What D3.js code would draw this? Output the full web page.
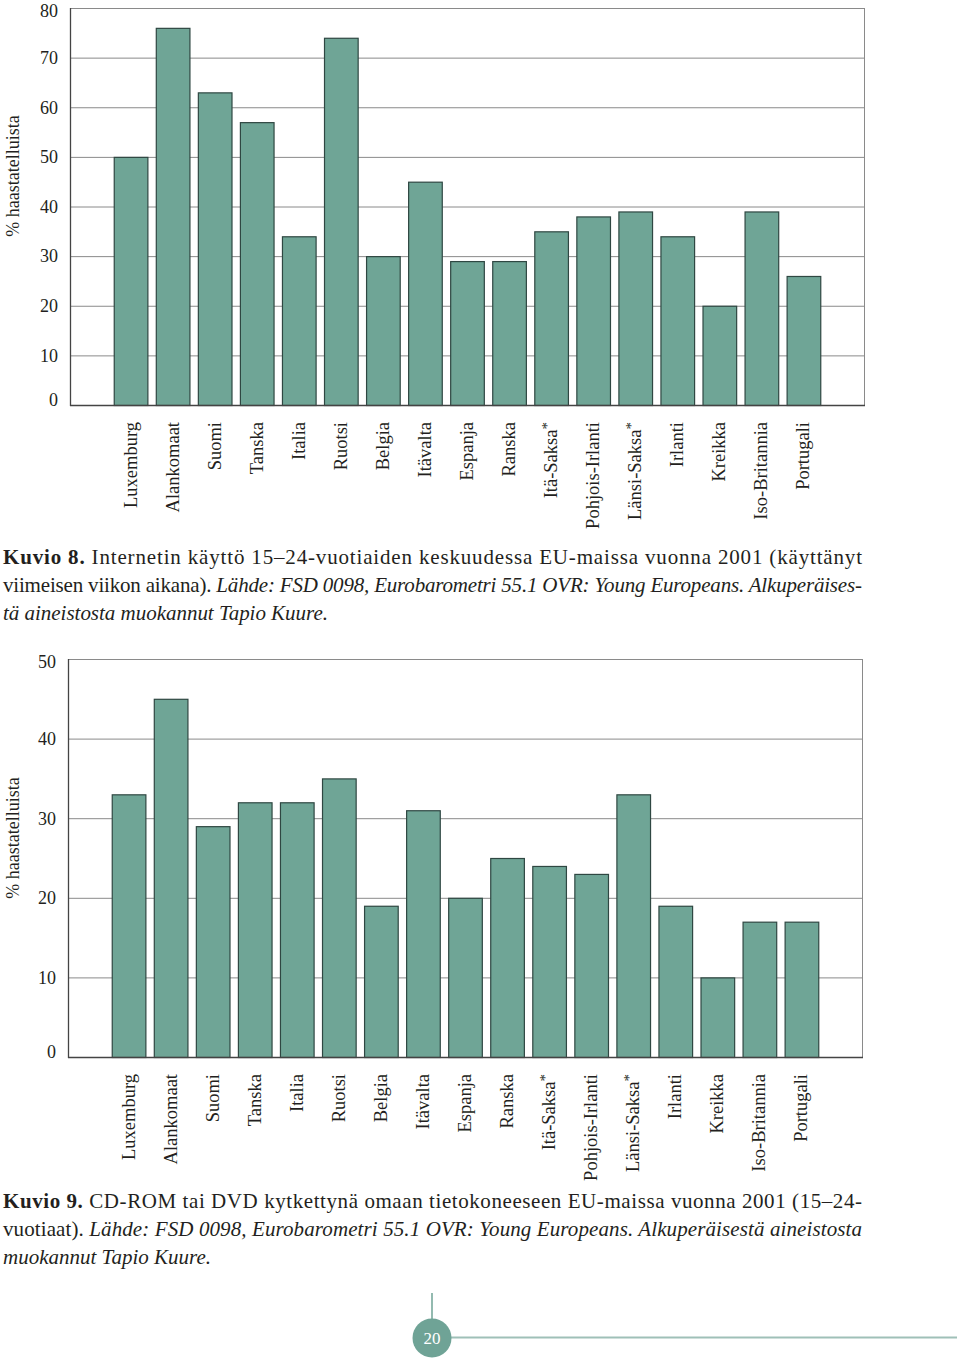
<!DOCTYPE html>
<html>
<head>
<meta charset="utf-8">
<script src="https://cdn.jsdelivr.net/npm/d3@7"></script>
<style>
  html, body { margin: 0; padding: 0; background: #ffffff; }
  svg { display: block; }
  text { font-family: "Liberation Serif", "Times New Roman", Tinos, serif; fill: #231f20; }
</style>
</head>
<body>
<svg id="page" width="960" height="1364"></svg>
<script>
// ---- Data ----
const categories = ["Luxemburg", "Alankomaat", "Suomi", "Tanska", "Italia", "Ruotsi", "Belgia",
  "Itävalta", "Espanja", "Ranska", "Itä-Saksa*", "Pohjois-Irlanti", "Länsi-Saksa*", "Irlanti",
  "Kreikka", "Iso-Britannia", "Portugali"];
const internetValues = [50, 76, 63, 57, 34, 74, 30, 45, 29, 29, 35, 38, 39, 34, 20, 39, 26];
const cdromValues = [33, 45, 29, 32, 32, 35, 19, 31, 20, 25, 24, 23, 33, 19, 10, 17, 17];
const internetTicks = [0, 10, 20, 30, 40, 50, 60, 70, 80];
const cdromTicks = [0, 10, 20, 30, 40, 50];
const yTitle = "% haastatelluista";
const pageNumber = "20";

const caption8 = [
  [["b", "Kuvio 8."], ["n", " Internetin käyttö 15–24-vuotiaiden keskuudessa EU-maissa vuonna 2001 (käyttänyt"]],
  [["n", "viimeisen viikon aikana). "], ["i", "Lähde: FSD 0098, Eurobarometri 55.1 OVR: Young Europeans. Alkuperäises-"]],
  [["i", "tä aineistosta muokannut Tapio Kuure."]]
];
const caption9 = [
  [["b", "Kuvio 9."], ["n", " CD-ROM tai DVD kytkettynä omaan tietokoneeseen EU-maissa vuonna 2001 (15–24-"]],
  [["n", "vuotiaat). "], ["i", "Lähde: FSD 0098, Eurobarometri 55.1 OVR: Young Europeans. Alkuperäisestä aineistosta"]],
  [["i", "muokannut Tapio Kuure."]]
];

// ---- Styles ----
const BAR_FILL = "#6fa596";
const BAR_STROKE = "#2f4742";
const GRID = "#8a8a8a";
const AXIS = "#444";
const TEAL = "#6fa396";

const svg = d3.select("#page");

function drawChart(cfg) {
  const g = svg.append("g");
  const x = d3.scaleBand().domain(categories)
    .range([cfg.left, cfg.right]).paddingInner(0.2).paddingOuter(1.04);
  const maxTick = d3.max(cfg.ticks);
  const y = d3.scaleLinear().domain([0, maxTick]).range([cfg.bottom, cfg.top]);

  // gridlines
  g.selectAll("line.grid").data(cfg.ticks.filter(t => t > 0)).join("line")
    .attr("x1", cfg.left).attr("x2", cfg.right)
    .attr("y1", d => y(d) + 0.5).attr("y2", d => y(d) + 0.5)
    .attr("stroke", GRID).attr("stroke-width", 1);
  // right frame
  g.append("line").attr("x1", cfg.right + 0.5).attr("x2", cfg.right + 0.5)
    .attr("y1", cfg.top).attr("y2", cfg.bottom).attr("stroke", GRID);

  // bars
  g.selectAll("rect.bar").data(cfg.values).join("rect")
    .attr("x", (d, i) => x(categories[i]) + 0.5)
    .attr("y", d => y(d) + 0.5)
    .attr("width", x.bandwidth())
    .attr("height", d => y(0) - y(d))
    .attr("fill", BAR_FILL).attr("stroke", BAR_STROKE).attr("stroke-width", 1.2);

  // axes lines
  g.append("line").attr("x1", cfg.left + 0.5).attr("x2", cfg.left + 0.5)
    .attr("y1", cfg.top).attr("y2", cfg.bottom + 1).attr("stroke", AXIS).attr("stroke-width", 1.3);
  g.append("line").attr("x1", cfg.left).attr("x2", cfg.right + 1)
    .attr("y1", cfg.bottom + 0.5).attr("y2", cfg.bottom + 0.5).attr("stroke", AXIS).attr("stroke-width", 1.3);

  // tick labels
  g.selectAll("text.tick").data(cfg.ticks).join("text")
    .attr("x", cfg.left - 12)
    .attr("y", d => d === 0 ? y(d) - 5 : (d === maxTick ? y(d) + 3 : y(d)))
    .attr("dy", "0.35em")
    .attr("text-anchor", "end")
    .attr("font-size", 18)
    .text(d => d);

  // category labels
  const lab = g.selectAll("text.cat").data(categories).join("text")
    .attr("transform", d => `translate(${x(d) + x.bandwidth() / 2 + 6},${cfg.bottom + 17}) rotate(-90)`)
    .attr("text-anchor", "end")
    .attr("font-size", 18.5);
  lab.each(function(d) {
    const t = d3.select(this);
    if (d.endsWith("*")) {
      t.append("tspan").text(d.slice(0, -1));
      t.append("tspan").attr("dy", "-0.35em").attr("font-size", 15).text("*");
    } else {
      t.text(d);
    }
  });

  // y title
  g.append("text")
    .attr("transform", `translate(19,${cfg.titleY}) rotate(-90)`)
    .attr("text-anchor", "middle")
    .attr("font-size", 18)
    .text(yTitle);
}

drawChart({ values: internetValues, ticks: internetTicks, left: 70, right: 864, top: 8, bottom: 405, titleY: 176 });
drawChart({ values: cdromValues, ticks: cdromTicks, left: 68, right: 862, top: 659, bottom: 1057, titleY: 838 });

function drawCaption(lines, baselines, widths) {
  lines.forEach((parts, li) => {
    const t = svg.append("text").attr("x", 3).attr("y", baselines[li]).attr("font-size", 21)
      .attr("textLength", widths[li]).attr("lengthAdjust", "spacing");
    parts.forEach(([style, str]) => {
      const s = t.append("tspan").text(str);
      if (style === "b") s.attr("font-weight", "bold");
      if (style === "i") s.attr("font-style", "italic");
    });
  });
}
drawCaption(caption8, [564, 592, 620], [859, 859, 325]);
drawCaption(caption9, [1208, 1236, 1264], [859, 859, 208]);

// page number ornament
svg.append("line").attr("x1", 432).attr("x2", 432).attr("y1", 1293).attr("y2", 1320)
  .attr("stroke", TEAL).attr("stroke-width", 1.5);
svg.append("line").attr("x1", 450).attr("x2", 957).attr("y1", 1337.5).attr("y2", 1337.5)
  .attr("stroke", "#9fc0b8").attr("stroke-width", 2);
svg.append("circle").attr("cx", 432).attr("cy", 1338).attr("r", 19.5).attr("fill", TEAL);
svg.append("text").attr("x", 432).attr("y", 1338).attr("dy", "0.35em")
  .attr("text-anchor", "middle").attr("font-size", 17).style("fill", "#ffffff").text(pageNumber);
</script>
</body>
</html>
